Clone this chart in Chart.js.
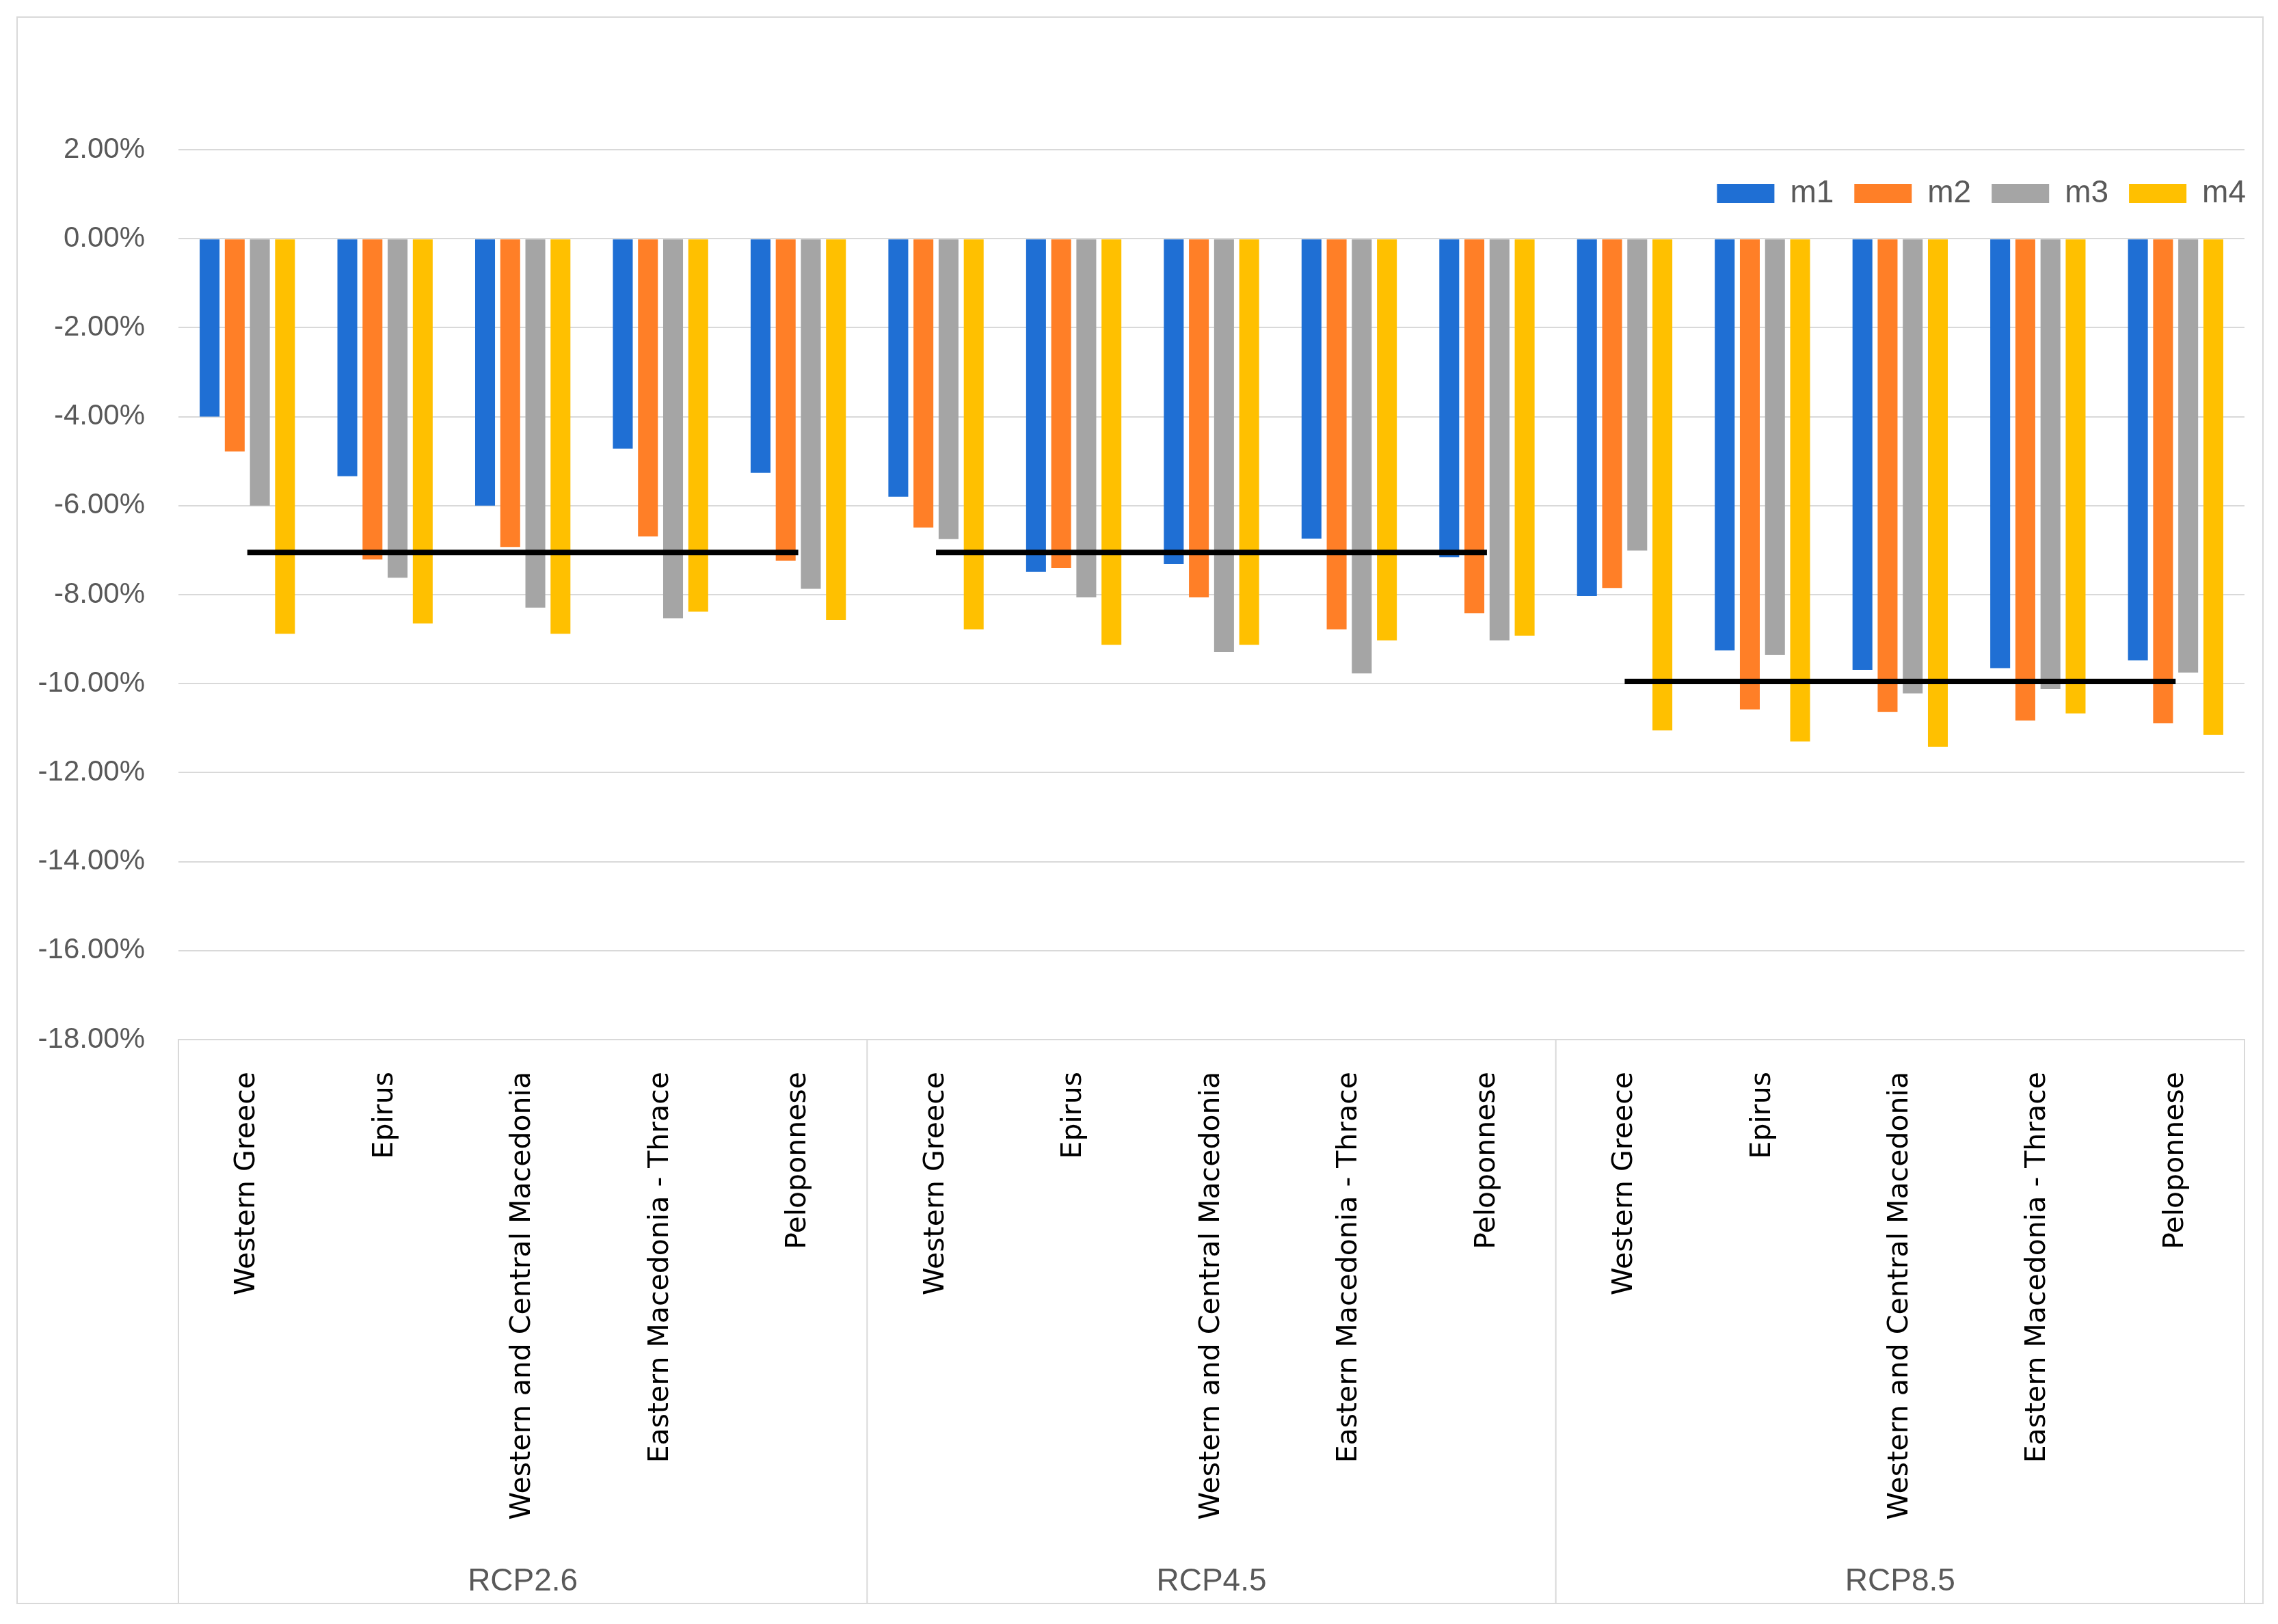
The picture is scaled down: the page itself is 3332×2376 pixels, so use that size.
<!DOCTYPE html>
<html>
<head>
<meta charset="utf-8">
<script src="https://cdn.jsdelivr.net/npm/chart.js@4.4.1/dist/chart.umd.min.js"></script>
<style>
  html, body { margin: 0; padding: 0; background: #ffffff; }
  #frame { position: absolute; left: 24px; top: 24px; width: 3283px; height: 2319px; border: 2px solid #d9d9d9; }
  #wrap { position: relative; width: 3283px; height: 2319px; }
</style>
</head>
<body>
<div id="frame"><div id="wrap"><canvas id="c"></canvas></div></div>
<script>
// ---- data ----
const groups = ['RCP2.6', 'RCP4.5', 'RCP8.5'];
const regions = ['Western Greece', 'Epirus', 'Western and Central Macedonia', 'Eastern Macedonia - Thrace', 'Peloponnese'];
const seriesNames = ['m1', 'm2', 'm3', 'm4'];
const m1 = [-4.00, -5.34, -6.00, -4.72, -5.26,  -5.80, -7.49, -7.31, -6.74, -7.16,  -8.03, -9.25, -9.69, -9.65, -9.48];
const m2 = [-4.78, -7.21, -6.93, -6.69, -7.24,  -6.49, -7.40, -8.06, -8.78, -8.42,  -7.85, -10.58, -10.64, -10.83, -10.89];
const m3 = [-6.00, -7.62, -8.29, -8.53, -7.87,  -6.75, -8.06, -9.29, -9.77, -9.03,  -7.01, -9.35, -10.22, -10.12, -9.75];
const m4 = [-8.88, -8.65, -8.88, -8.38, -8.57,  -8.78, -9.13, -9.13, -9.03, -8.92,  -11.05, -11.30, -11.42, -10.67, -11.15];
const groupMeans = [-7.05, -7.05, -9.95];
const yTicks = { min: -18, max: 2, step: 2 };
const colors = ['#1f6fd4', '#ff7f27', '#a5a5a5', '#ffc000'];

// ---- build ----
const labels = [];
groups.forEach(() => regions.forEach(r => labels.push(r)));
const series = [m1, m2, m3, m4];
const datasets = series.map((d, i) => ({
  type: 'bar', label: seriesNames[i], data: d, backgroundColor: colors[i],
  borderWidth: 0, order: 1, categoryPercentage: 0.73, barPercentage: 0.79
}));
groupMeans.forEach((v, g) => {
  const d = labels.map((_, i) => (Math.floor(i / regions.length) === g ? v : null));
  datasets.push({ type: 'line', label: 'mean ' + groups[g], data: d, borderColor: '#000000',
    borderWidth: 8, pointRadius: 0, pointHoverRadius: 0, fill: false, spanGaps: false, order: 0 });
});

const tickFont = { family: '"Liberation Sans", Arial, sans-serif', size: 42 };
const legendFont = { family: '"Liberation Sans", Arial, sans-serif', size: 46 };
const LEG_PAD = 30;

const separators = {
  id: 'separators',
  afterLayout(chart) {
    const lg = chart.legend, ca = chart.chartArea;
    const h = lg.height;
    lg.top = ca.top + 64 - LEG_PAD - 23;
    lg.bottom = lg.top + h;
    lg.left += 32; lg.right += 32;
  },
  afterDraw(chart) {
    const x = chart.scales.x, ca = chart.chartArea, ctx = chart.ctx;
    const n = regions.length;
    ctx.save();
    ctx.strokeStyle = '#d9d9d9';
    ctx.lineWidth = 2;
    for (let g = 0; g <= groups.length; g++) {
      let px;
      if (g === 0) px = ca.left;
      else if (g === groups.length) px = ca.right;
      else px = (x.getPixelForTick(g * n - 1) + x.getPixelForTick(g * n)) / 2;
      ctx.beginPath();
      ctx.moveTo(px, ca.bottom);
      ctx.lineTo(px, chart.height);
      ctx.stroke();
    }
    ctx.restore();
  }
};

new Chart(document.getElementById('c'), {
  data: { labels, datasets },
  plugins: [separators],
  options: {
    responsive: true, maintainAspectRatio: false, devicePixelRatio: 1, animation: false,
    layout: { padding: { top: 193 - (46 + LEG_PAD + 10), left: 0, right: 26, bottom: 0 } },
    plugins: {
      tooltip: { enabled: false },
      legend: {
        position: 'top', align: 'end',
        labels: {
          boxWidth: 84, boxHeight: 28, padding: LEG_PAD, color: '#595959', font: legendFont,
          filter: (item) => seriesNames.includes(item.text)
        }
      }
    },
    scales: {
      x: {
        type: 'category', position: 'bottom', offset: true,
        grid: { display: false, offset: true },
        border: { display: true, color: '#d9d9d9', width: 2 },
        ticks: { autoSkip: false, maxRotation: 90, minRotation: 90, padding: 39, color: '#000000',
          font: { family: '"DejaVu Sans", Verdana, sans-serif', size: 41 } },
        afterFit: (s) => { s.height = 740; }
      },
      x2: {
        type: 'category', position: 'bottom', offset: true, labels: groups,
        grid: { display: false }, border: { display: false },
        ticks: { padding: 18, color: '#595959', font: { family: tickFont.family, size: 46 } },
        afterFit: (s) => { s.height = 84; }
      },
      y: {
        min: yTicks.min, max: yTicks.max,
        grid: { color: '#d9d9d9', lineWidth: 2, drawTicks: false },
        border: { display: false },
        ticks: { stepSize: yTicks.step, padding: 49, color: '#595959', font: tickFont,
          callback: (v) => v.toFixed(2) + '%' },
        afterFit: (s) => { s.width = 235; }
      }
    }
  }
});
</script>
</body>
</html>
